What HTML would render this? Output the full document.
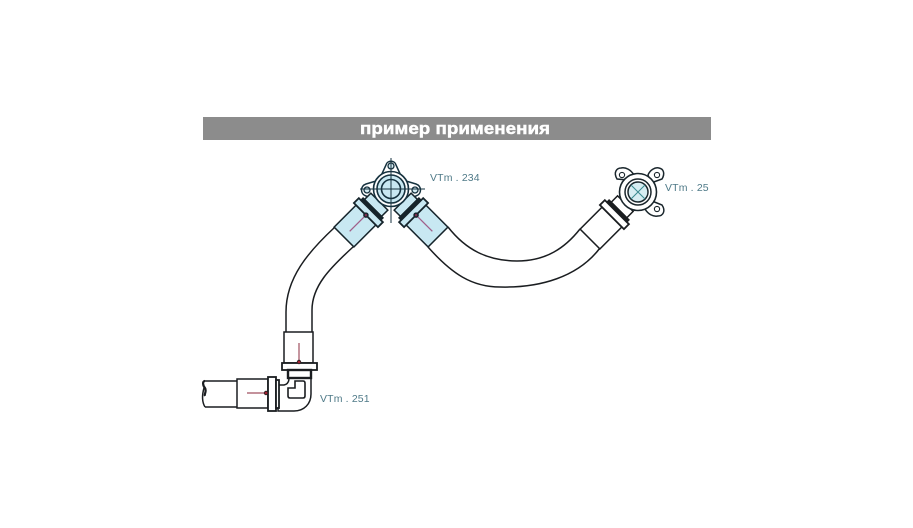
<!DOCTYPE html>
<html>
<head>
<meta charset="utf-8">
<style>
html,body{margin:0;padding:0;background:#fff;width:913px;height:528px;overflow:hidden}
svg{display:block;filter:blur(.3px)}
</style>
</head>
<body>
<svg width="913" height="528" viewBox="0 0 913 528" xmlns="http://www.w3.org/2000/svg">
<rect x="203" y="117" width="508" height="23" fill="#8c8c8c"/>
<text x="455" y="134" text-anchor="middle" font-family="'Liberation Sans',sans-serif" font-weight="bold" font-size="17" fill="#fff" stroke="#fff" stroke-width=".45" textLength="190" lengthAdjust="spacingAndGlyphs">пример применения</text>

<g fill="none" stroke="#1a1d20" stroke-width="1.5">
<path d="M286 332V312C286 278 308 252 335 227"/>
<path d="M312 332V310C312 286 330 268 353 247"/>
<path d="M448 227C466 250 488 261 517 261C546 261 565 248 580 229"/>
<path d="M428 247C452 274 472 287 500 287C540 288 578 277 600 248"/>
<path d="M205 381H237M205 407H237"/>
<path d="M205 381C202 381 203 386 205 388C207 391 204 394 205 396" stroke-width="2.2"/>
<path d="M204 388C202 395 202 402 205 407"/>
</g>

<!-- elbow -->
<g fill="#fff" stroke="#1a1d20" stroke-width="1.5">
<path d="M289 378H311V394C311 404 304 411 294 411H278V385H284Q289 384 289 378Z"/>
<path d="M295 381H303Q305 381 305 383V396Q305 398 303 398H290Q288 398 288 396V388H295Z" stroke-width="1.6"/>
<rect x="284" y="332" width="29" height="31"/>
<rect x="282" y="363" width="35" height="7" stroke-width="1.8"/>
<rect x="288" y="370" width="23" height="8" stroke-width="2.4"/>
<rect x="237" y="379" width="31" height="29"/>
<rect x="268" y="377" width="8" height="34" stroke-width="1.8"/>
<rect x="276" y="380" width="3" height="28" stroke-width="1.8"/>
</g>
<g stroke="#a05060" stroke-width="1.2" fill="none">
<path d="M299 343V362M247 393H266"/>
</g>
<circle cx="299" cy="362" r="1.8" fill="#a02030" stroke="#222" stroke-width=".8"/>
<circle cx="266" cy="393" r="1.8" fill="#a02030" stroke="#222" stroke-width=".8"/>

<!-- left wall plate 234 -->
<g stroke="#16323f" fill="none">
<path d="M380 178L386 165C387 160 395 160 396 165L402 178Z" fill="#fff" stroke-width="1.5"/>
<path d="M376 181L366 184C360 186 360 194 366 196L378 200Z" fill="#fff" stroke-width="1.5"/>
<path d="M406 181L416 184C422 186 422 194 416 196L404 200Z" fill="#fff" stroke-width="1.5"/>
<circle cx="391" cy="166" r="3" fill="#d6edf4" stroke-width="1.3"/>
<circle cx="367" cy="190" r="3" fill="#d6edf4" stroke-width="1.3"/>
<circle cx="415" cy="190" r="3" fill="#d6edf4" stroke-width="1.3"/>
</g>

<!-- left fitting -->
<g transform="translate(344 237) rotate(-45)" stroke="#16242b" stroke-width="1.5">
<rect x="0" y="-14" width="31" height="28" fill="#c8e8f2"/>
<rect x="41" y="-12" width="9" height="24" fill="#c8e8f2"/>
<rect x="31" y="-17" width="7" height="34" fill="#c8e8f2" stroke-width="1.8"/>
<rect x="38" y="-14" width="3" height="28" fill="#16242b" stroke-width="1.6"/>
<path d="M8 0H30" stroke="#a0608a" stroke-width="1.3"/>
<circle cx="31" cy="0" r="2" fill="#803050"/>
</g>
<!-- middle fitting -->
<g transform="translate(438 237) rotate(-135)" stroke="#16242b" stroke-width="1.5">
<rect x="0" y="-14" width="31" height="28" fill="#c8e8f2"/>
<rect x="41" y="-12" width="9" height="24" fill="#c8e8f2"/>
<rect x="31" y="-17" width="7" height="34" fill="#c8e8f2" stroke-width="1.8"/>
<rect x="38" y="-14" width="3" height="28" fill="#16242b" stroke-width="1.6"/>
<path d="M8 0H30" stroke="#a0608a" stroke-width="1.3"/>
<circle cx="31" cy="0" r="2" fill="#803050"/>
</g>

<g stroke="#16323f" fill="none">
<circle cx="391" cy="189" r="17.5" fill="#fff" stroke-width="1.6"/>
<circle cx="391" cy="189" r="14" fill="#c8e8f2" stroke-width="1.6"/>
<circle cx="391" cy="189" r="9.5" fill="#c8e8f2" stroke-width="1.6"/>
<path d="M360 189H425M391 158V223" stroke-width="1"/>
</g>

<!-- right wall plate -->
<g stroke="#1a262c" fill="#fff">
<path d="M628 180L617 179C613 172 617 168 621 168C626 167 631 170 634 175Z" stroke-width="1.5"/>
<path d="M648 175C650 170 655 167 659 168C664 169 665 174 662 179L651 183Z" stroke-width="1.5"/>
<path d="M652 201L662 205C666 211 663 216 658 216C653 217 648 214 645 209Z" stroke-width="1.5"/>
<circle cx="622" cy="175" r="2.6" stroke-width="1.1"/>
<circle cx="657" cy="175" r="2.6" stroke-width="1.1"/>
<circle cx="657" cy="209" r="2.6" stroke-width="1.1"/>
</g>

<!-- right fitting -->
<g transform="translate(590 239) rotate(-45)" stroke="#1a1d20" stroke-width="1.5" fill="#fff">
<rect x="0" y="-14" width="31" height="28"/>
<rect x="41" y="-11" width="9" height="22"/>
<rect x="31" y="-17" width="7" height="34" stroke-width="1.8"/>
<rect x="38" y="-14" width="3" height="28" fill="#1a1d20"/>
</g>

<g stroke="#1a262c" fill="#fff">
<circle cx="638" cy="192" r="18.5" stroke-width="1.6"/>
<circle cx="638" cy="192" r="13" stroke-width="1.5"/>
<circle cx="638" cy="192" r="10" fill="#d6edf2" stroke-width="1.5"/>
<path d="M631 185L645 199M645 185L631 199" stroke="#3a8a90" stroke-width="1" fill="none"/>
</g>

<g font-family="'Liberation Sans',sans-serif" font-size="10.5" fill="#4f7a88" letter-spacing=".15">
<text x="430" y="181">VTm . 234</text>
<text x="665" y="191">VTm . 25</text>
<text x="320" y="402">VTm . 251</text>
</g>
</svg>
</body>
</html>
